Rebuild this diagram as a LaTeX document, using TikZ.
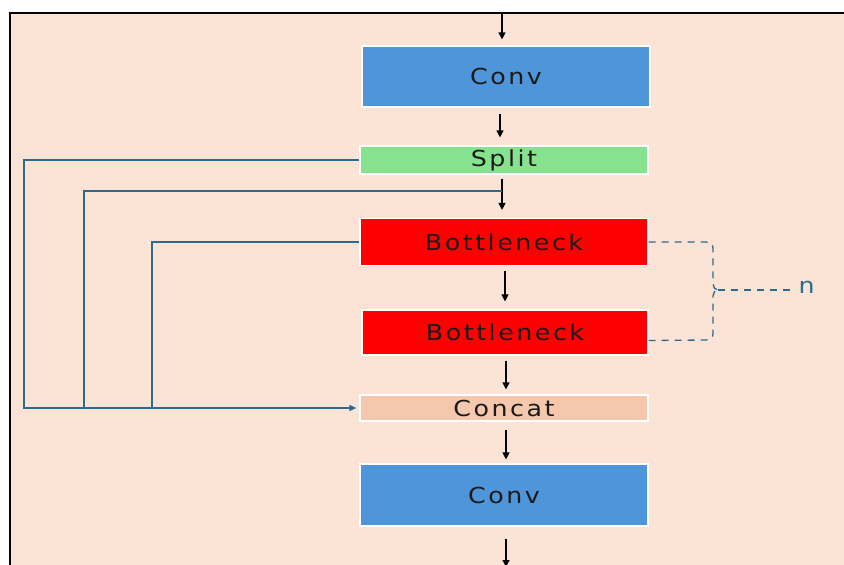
\documentclass[tikz,border=0pt]{standalone}
\usepackage{graphicx}
\usepackage{fontspec}
\setmainfont{DejaVu Sans}
\newfontfamily\blkfont[LetterSpace=10]{DejaVu Sans}
\newcommand{\widetxt}[1]{\scalebox{1.15}[1]{#1}}
\usetikzlibrary{arrows.meta,calc}
\definecolor{panel}{HTML}{FBE3D6}
\definecolor{convc}{HTML}{4F95D9}
\definecolor{splitc}{HTML}{86E28E}
\definecolor{bnc}{HTML}{FF0000}
\definecolor{catc}{HTML}{F5C7AD}
\definecolor{skipc}{HTML}{2C6B8E}
\definecolor{txtc}{HTML}{1A1A1A}
\tikzset{
  blk/.style={draw=white, line width=1.2pt, inner sep=0pt, text=txtc, font=\blkfont\fontsize{22}{24}\selectfont},
  flow/.style={draw=black, line width=1.2pt, -{Triangle[length=7pt,width=7pt]}},
  skip/.style={draw=skipc, line width=1.4pt},
  rep/.style={draw=skipc, line width=1.3pt, dash pattern=on 7pt off 6pt},
}
\begin{document}
\begin{tikzpicture}[x=1pt,y=-1pt]
\useasboundingbox (0,0) rectangle (844,565);
\fill[white] (0,0) rectangle (844,565);
\fill[panel] (10,13) rectangle (844,565);
\draw[black, line width=1.3pt] (10,565) -- (10,13) -- (844,13);

\node[blk, fill=convc, minimum width=288pt, minimum height=61pt] (conv1) at (506,76.5) {\widetxt{Conv}};
\node[blk, fill=splitc, minimum width=288pt, minimum height=28pt] (split) at (504,160) {\widetxt{Split}};
\node[blk, fill=bnc, minimum width=288pt, minimum height=47pt] (bn1) at (504,242) {\widetxt{Bottleneck}};
\node[blk, fill=bnc, minimum width=286pt, minimum height=45pt] (bn2) at (505,332.5) {\widetxt{Bottleneck}};
\node[blk, fill=catc, minimum width=288pt, minimum height=26pt] (cat) at (504,408) {\widetxt{Concat}};
\node[blk, fill=convc, minimum width=288pt, minimum height=62pt] (conv2) at (504,495) {\widetxt{Conv}};

\coordinate (in) at (502,13);
\coordinate (out) at (506,565);
\coordinate (j) at (502,191);
\coordinate (nlab) at (790,290);

\draw[flow] (in) -- ([yshift=6pt]conv1.north -| in);
\draw[flow] ([yshift=-6pt]conv1.south -| 500,0) -- ([yshift=8pt]split.north -| 500,0);
\draw[flow] ([yshift=-4pt]split.south -| j) -- ([yshift=8pt]bn1.north -| j);
\draw[flow] ([yshift=-5pt]bn1.south -| 505,0) -- ([yshift=8pt]bn2.north -| 505,0);
\draw[flow] ([yshift=-5pt]bn2.south -| 506,0) -- ([yshift=5pt]cat.north -| 506,0);
\draw[flow] ([yshift=-8pt]cat.south -| 506,0) -- ([yshift=4pt]conv2.north -| 506,0);
\draw[flow] ([yshift=-12pt]conv2.south -| out) -- ([yshift=-2pt]out);

\draw[skip] (split.west) -| (24,408) -- (84,408);
\draw[skip] (j) -| (84,408) -- (152,408);
\draw[skip, -{Triangle[length=7pt,width=6pt]}] (bn1.west) -| (152,408) -- ([xshift=-3pt]cat.west);

\draw[rep] (bn1.east) -- (706,242) to[out=0,in=90] (713,248) -- (713,284) to[out=-90,in=180] (718,290);
\draw[rep] ([yshift=-8pt]bn2.east) -- (706,340) to[out=0,in=-90] (713,334) -- (713,296) to[out=90,in=180] (718,290);
\draw[rep] (718,290) -- (nlab);
\node[text=skipc, font=\blkfont\fontsize{22}{24}\selectfont, anchor=west] (n) at (795,287) {\widetxt{n}};
\end{tikzpicture}
\end{document}
